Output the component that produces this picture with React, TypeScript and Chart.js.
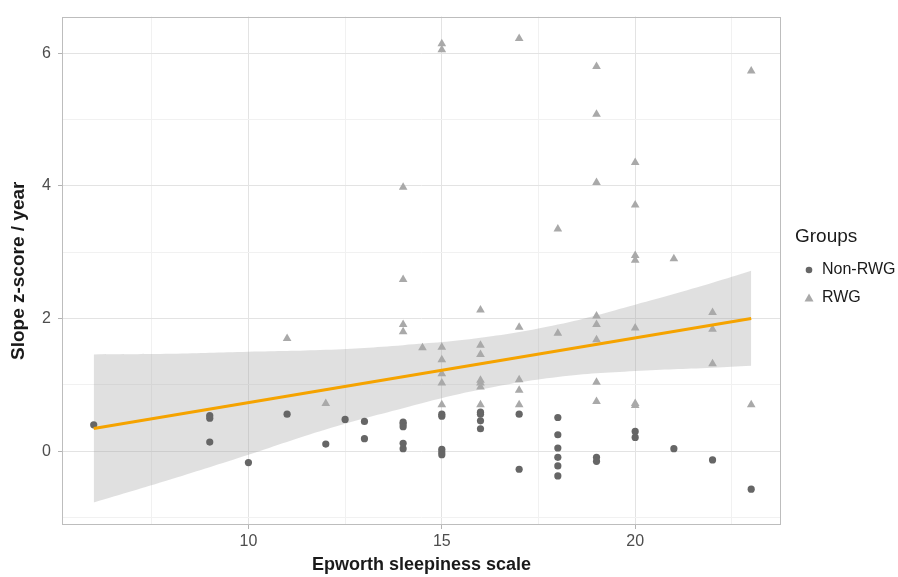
import React, { useEffect, useRef } from "react";
import { Chart, registerables } from "chart.js";

Chart.register(...registerables);

// ---- Data ----
const nonRwgX = [6, 9, 9, 9, 10, 11, 12, 12.5, 13, 13, 14, 14, 14, 14, 14, 15, 15, 15, 15, 15, 16, 16, 16, 16, 17, 17, 18, 18, 18, 18, 18, 18, 19, 19, 20, 20, 21, 22, 23];
const nonRwgY = [0.4, 0.54, 0.5, 0.14, -0.17, 0.56, 0.11, 0.48, 0.45, 0.19, 0.44, 0.41, 0.37, 0.12, 0.04, 0.56, 0.53, 0.03, -0.01, -0.05, 0.59, 0.56, 0.46, 0.34, 0.56, -0.27, 0.51, 0.25, 0.05, -0.09, -0.22, -0.37, -0.09, -0.15, 0.3, 0.21, 0.04, -0.13, -0.57];

const rwgX = [11, 12, 14, 14, 14, 14, 14.5, 15, 15, 15, 15, 15, 15, 15, 16, 16, 16, 16, 16, 16, 16, 17, 17, 17, 17, 17, 18, 18, 19, 19, 19, 19, 19, 19, 19, 19, 20, 20, 20, 20, 20, 20, 20, 21, 22, 22, 22, 23, 23];
const rwgY = [1.7, 0.72, 3.98, 2.59, 1.91, 1.8, 1.56, 6.14, 6.05, 1.57, 1.38, 1.17, 1.03, 0.7, 2.13, 1.6, 1.46, 1.07, 1.03, 0.97, 0.7, 6.22, 1.87, 1.08, 0.92, 0.7, 3.35, 1.78, 5.8, 5.08, 4.05, 2.04, 1.91, 1.68, 1.04, 0.75, 4.35, 3.71, 2.95, 2.88, 1.86, 0.72, 0.69, 2.9, 2.09, 1.84, 1.32, 5.73, 0.7];

const fitX = [6, 23];
const fitY = [0.345, 2.0];

const bandX = [6, 8, 10, 12, 14, 16, 18, 20, 22, 23];
const bandUpper = [1.46, 1.47, 1.5, 1.53, 1.6, 1.71, 1.91, 2.21, 2.54, 2.72];
const bandLower = [-0.77, -0.42, -0.05, 0.33, 0.65, 0.93, 1.12, 1.21, 1.26, 1.29];

const xMajorTicks = [10, 15, 20];
const xMinorTicks = [7.5, 12.5, 17.5, 22.5];
const yMajorTicks = [0, 2, 4, 6];
const yMinorTicks = [-1, 1, 3, 5];

const seriesLabels = ["Non-RWG", "RWG"];
const legendTitle = "Groups";
const xTitle = "Epworth sleepiness scale";
const yTitle = "Slope z-score / year";

const FONT = "'Liberation Sans', Arial, sans-serif";
const CIRCLE_COLOR = "#666666";
const TRI_COLOR = "#a9a9a9";

const toPts = (xs: number[], ys: number[]) => xs.map((x, i) => ({ x, y: ys[i] }));

export default function App() {
  const ref = useRef<HTMLCanvasElement>(null);

  useEffect(() => {
    const canvas = ref.current;
    if (!canvas) return;

    const panelBorder = {
      id: "panelBorder",
      afterDatasetsDraw(chart: any) {
        const { ctx, chartArea } = chart;
        ctx.save();
        ctx.strokeStyle = "#bdbdbd";
        ctx.lineWidth = 1;
        ctx.strokeRect(
          Math.round(chartArea.left) + 0.5,
          Math.round(chartArea.top) + 0.5,
          Math.round(chartArea.right - chartArea.left) - 1,
          Math.round(chartArea.bottom - chartArea.top) - 1
        );
        ctx.restore();
      },
    };

    const customLegend = {
      id: "customLegend",
      afterDraw(chart: any) {
        const { ctx } = chart;
        ctx.save();
        ctx.textAlign = "left";
        ctx.textBaseline = "middle";
        ctx.fillStyle = "#1a1a1a";
        ctx.font = `19px ${FONT}`;
        ctx.fillText(legendTitle, 795, 237);
        ctx.font = `16px ${FONT}`;
        // circle key
        ctx.fillStyle = CIRCLE_COLOR;
        ctx.beginPath();
        ctx.arc(809, 270, 3.3, 0, Math.PI * 2);
        ctx.fill();
        ctx.fillStyle = "#1a1a1a";
        ctx.fillText(seriesLabels[0], 822, 270);
        // triangle key
        ctx.fillStyle = TRI_COLOR;
        ctx.beginPath();
        ctx.moveTo(809, 293.5);
        ctx.lineTo(813.5, 301.5);
        ctx.lineTo(804.5, 301.5);
        ctx.closePath();
        ctx.fill();
        ctx.fillStyle = "#1a1a1a";
        ctx.fillText(seriesLabels[1], 822, 298);
        ctx.restore();
      },
    };

    const gridColor = (majors: number[]) => (c: any) =>
      c.tick && majors.includes(c.tick.value) ? "#e3e3e3" : "#f1f1f1";
    const tickColor = (majors: number[]) => (c: any) =>
      c.tick && majors.includes(c.tick.value) ? "#b3b3b3" : "rgba(0,0,0,0)";

    const chart = new Chart(canvas, {
      type: "scatter",
      data: {
        datasets: [
          {
            type: "line",
            label: "lower",
            data: toPts(bandX, bandLower),
            borderWidth: 0,
            pointRadius: 0,
            fill: false,
            tension: 0.4,
            order: 5,
          } as any,
          {
            type: "line",
            label: "upper",
            data: toPts(bandX, bandUpper),
            borderWidth: 0,
            pointRadius: 0,
            backgroundColor: "rgba(160,160,160,0.33)",
            fill: "-1",
            tension: 0.4,
            order: 4,
          } as any,
          {
            label: seriesLabels[0],
            data: toPts(nonRwgX, nonRwgY),
            pointStyle: "circle",
            pointRadius: 3.6,
            backgroundColor: CIRCLE_COLOR,
            borderWidth: 0,
            order: 2,
          },
          {
            label: seriesLabels[1],
            data: toPts(rwgX, rwgY),
            pointStyle: "triangle",
            pointRadius: 5,
            backgroundColor: TRI_COLOR,
            borderWidth: 0,
            order: 3,
          },
          {
            type: "line",
            label: "fit",
            data: toPts(fitX, fitY),
            borderColor: "#F5A300",
            borderWidth: 3,
            pointRadius: 0,
            fill: false,
            order: 1,
          } as any,
        ],
      },
      options: {
        animation: false,
        responsive: true,
        maintainAspectRatio: false,
        layout: { padding: { top: 15, right: 117, left: 0, bottom: 0 } },
        plugins: {
          legend: { display: false },
          tooltip: { enabled: false },
        },
        scales: {
          x: {
            type: "linear",
            min: 5.18,
            max: 23.77,
            afterBuildTicks: (axis: any) => {
              axis.ticks = [...xMinorTicks, ...xMajorTicks]
                .sort((a, b) => a - b)
                .map((v) => ({ value: v }));
            },
            afterFit: (axis: any) => {
              axis.height = 52;
            },
            ticks: {
              autoSkip: false,
              maxRotation: 0,
              padding: 3,
              color: "#4d4d4d",
              font: { family: FONT, size: 16 },
              callback: (v: any) => (xMajorTicks.includes(Number(v)) ? String(v) : ""),
            },
            grid: {
              color: gridColor(xMajorTicks),
              lineWidth: 1,
              tickLength: 4,
              tickColor: tickColor(xMajorTicks),
              drawTicks: true,
            },
            border: { display: false },
            title: {
              display: true,
              text: xTitle,
              color: "#1a1a1a",
              font: { family: FONT, size: 18, weight: "bold" },
              padding: { top: 0, bottom: 1 },
            },
          },
          y: {
            type: "linear",
            min: -1.11,
            max: 6.55,
            afterBuildTicks: (axis: any) => {
              axis.ticks = [...yMinorTicks, ...yMajorTicks]
                .sort((a, b) => a - b)
                .map((v) => ({ value: v }));
            },
            afterFit: (axis: any) => {
              axis.width = 62;
            },
            ticks: {
              autoSkip: false,
              padding: 7,
              color: "#4d4d4d",
              font: { family: FONT, size: 16 },
              callback: (v: any) => (yMajorTicks.includes(Number(v)) ? String(v) : ""),
            },
            grid: {
              color: gridColor(yMajorTicks),
              lineWidth: 1,
              tickLength: 4,
              tickColor: tickColor(yMajorTicks),
              drawTicks: true,
            },
            border: { display: false },
            title: {
              display: true,
              text: yTitle,
              color: "#1a1a1a",
              font: { family: FONT, size: 19, weight: "bold" },
              padding: { top: 7, bottom: 0 },
            },
          },
        },
      },
      plugins: [panelBorder, customLegend],
    } as any);

    return () => chart.destroy();
  }, []);

  return (
    <div
      style={{
        position: "fixed",
        left: 0,
        top: 0,
        width: 898,
        height: 577,
        background: "#ffffff",
      }}
    >
      <canvas ref={ref} />
    </div>
  );
}
